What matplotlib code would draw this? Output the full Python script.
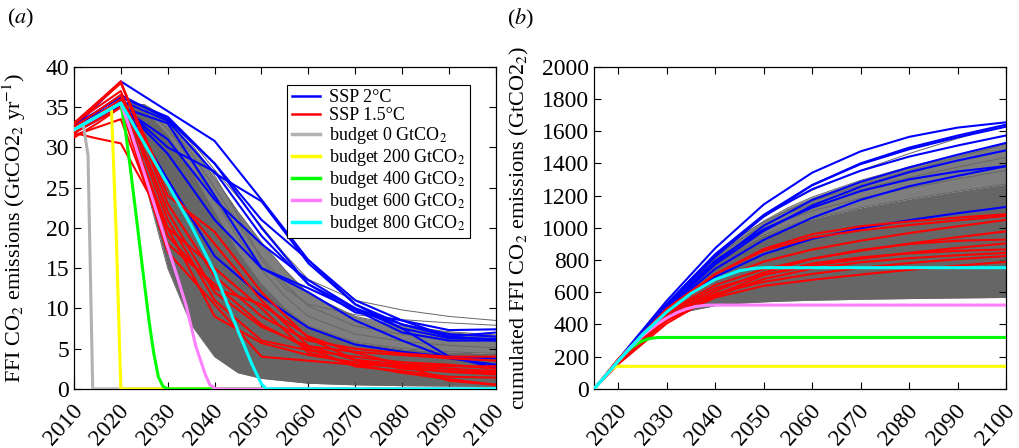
import numpy as np
import matplotlib
matplotlib.use("Agg")
import matplotlib.pyplot as plt
from matplotlib.transforms import ScaledTranslation

plt.rcParams['font.family'] = ['Liberation Serif', 'DejaVu Serif']
plt.rcParams['mathtext.fontset'] = 'stix'

# FFI CO2 emissions (GtCO2/yr), SSP runs at the reporting years
ssp_years = [2010, 2015, 2020, 2030, 2040, 2050, 2060, 2070, 2080, 2090, 2100]
ssp2_runs = [
    [32.5, 35.3, 38.2, 34.5, 30.8, 23.5, 16.0, 10.5, 7.5, 4.0, 2.6],
    [32.8, 34.5, 36.2, 33.8, 28.0, 21.0, 16.0, 11.0, 8.5, 6.5, 7.0],
    [32.0, 33.9, 35.8, 33.3, 26.8, 23.3, 15.6, 10.5, 8.0, 6.8, 6.5],
    [32.0, 33.6, 35.2, 30.0, 27.0, 19.0, 13.0, 9.5, 8.5, 7.3, 7.4],
    [31.8, 33.4, 35.0, 31.0, 23.5, 18.0, 13.5, 10.0, 8.0, 6.5, 6.1],
    [32.2, 33.7, 35.2, 29.2, 21.0, 15.0, 12.5, 9.8, 7.0, 6.0, 6.0],
    [32.5, 34.2, 35.8, 26.0, 16.5, 11.5, 7.6, 5.5, 4.6, 4.0, 3.8],
    [32.0, 33.5, 35.0, 33.0, 24.0, 15.0, 12.0, 8.5, 6.0, 3.8, 3.0],
    [32.4, 34.5, 36.5, 33.5, 28.0, 20.0, 13.0, 10.0, 7.5, 6.3, 6.2],
]
ssp15_runs = [
    [33.0, 35.6, 38.2, 23.0, 14.0, 9.0, 6.0, 5.0, 4.4, 4.0, 4.0],
    [32.8, 35.4, 38.0, 25.0, 18.0, 11.0, 5.3, 3.6, 3.0, 2.8, 2.8],
    [33.0, 35.0, 37.0, 22.0, 12.0, 7.7, 5.3, 4.6, 4.2, 3.8, 3.5],
    [32.5, 34.5, 36.5, 21.0, 11.0, 6.0, 4.8, 4.0, 3.3, 3.0, 2.5],
    [31.8, 33.4, 35.0, 20.0, 9.0, 5.7, 4.2, 3.3, 2.7, 2.1, 1.8],
    [31.5, 32.5, 33.5, 18.0, 13.0, 8.0, 5.0, 2.8, 2.2, 1.5, 1.4],
    [31.2, 33.0, 35.0, 17.0, 10.5, 4.0, 3.5, 3.0, 2.8, 2.5, 2.2],
    [31.8, 31.1, 30.5, 20.0, 15.0, 10.0, 4.5, 3.0, 2.0, 1.2, 0.5],
    [32.0, 34.0, 36.0, 19.0, 12.5, 10.5, 6.5, 4.5, 3.0, 1.0, 0.5],
    [33.0, 35.5, 38.0, 24.0, 19.5, 12.0, 6.3, 3.6, 2.5, 2.2, 2.0],
]

# shared historical emissions used by the budget pathways and the ensemble
hist_years = [2010, 2015, 2018, 2020]
hist_vals = [32.2, 33.85, 34.84, 35.5]

# ensemble of smooth pathways (from 2020 on)
gray_years = [2020, 2025, 2030, 2035, 2040, 2045, 2050, 2055, 2060, 2070, 2080, 2090, 2100]
gray_runs = [
    [35.5, 26.0, 15.0, 8.0, 4.0, 2.0, 1.3, 1.0, 0.7, 0.5, 0.4, 0.35, 0.3],
    [35.5, 27.5, 17.5, 10.0, 5.5, 3.0, 1.8, 1.3, 1.0, 0.7, 0.6, 0.5, 0.45],
    [35.5, 28.8, 19.5, 12.0, 7.0, 4.0, 2.4, 1.7, 1.3, 0.9, 0.8, 0.7, 0.6],
    [35.5, 30.0, 22.0, 14.5, 9.0, 5.5, 3.2, 2.2, 1.6, 1.1, 0.9, 0.8, 0.7],
    [35.5, 31.0, 23.5, 16.0, 10.5, 6.8, 4.2, 3.0, 2.2, 1.5, 1.2, 1.1, 1.0],
    [35.5, 31.5, 24.5, 17.5, 11.5, 7.5, 4.8, 3.3, 2.4, 1.6, 1.3, 1.1, 1.0],
    [35.5, 32.2, 25.8, 19.0, 13.0, 8.8, 5.8, 4.1, 3.0, 2.0, 1.7, 1.5, 1.3],
    [35.5, 32.5, 26.5, 20.0, 14.0, 9.5, 6.5, 4.6, 3.4, 2.3, 1.9, 1.7, 1.5],
    [35.5, 33.0, 27.5, 21.3, 15.3, 10.7, 7.4, 5.3, 4.0, 2.8, 2.3, 2.1, 1.9],
    [35.5, 33.2, 28.0, 22.0, 16.0, 11.5, 8.0, 5.8, 4.4, 3.2, 2.7, 2.4, 2.2],
    [35.5, 33.8, 29.5, 24.0, 18.5, 13.5, 9.8, 7.2, 5.5, 4.0, 3.4, 3.1, 2.9],
    [35.5, 34.3, 30.5, 25.5, 20.0, 15.5, 11.5, 8.6, 6.6, 4.9, 4.2, 3.9, 3.7],
    [35.5, 34.6, 31.5, 27.0, 22.0, 17.0, 13.0, 10.0, 7.8, 5.8, 5.0, 4.6, 4.4],
    [35.5, 34.9, 32.3, 28.3, 23.5, 18.8, 14.8, 11.5, 9.0, 6.8, 5.9, 5.4, 5.1],
    [35.5, 35.1, 32.9, 29.3, 25.0, 20.5, 16.4, 13.0, 10.3, 7.8, 6.8, 6.2, 5.9],
    [35.5, 35.2, 33.3, 30.2, 26.2, 22.0, 18.2, 14.8, 11.8, 9.0, 7.8, 7.1, 6.7],
    [35.5, 35.3, 33.5, 30.5, 26.5, 21.5, 16.0, 12.5, 10.5, 9.2, 8.6, 8.2, 7.9],
    [35.6, 35.3, 33.6, 30.8, 27.2, 23.8, 20.2, 16.7, 13.6, 11.0, 9.8, 9.0, 8.5],
]
core_lo, core_hi, fringe_hi = 0, 12, 15

# carbon budget pathways
b0_years = [2010, 2012, 2013, 2014, 2100]
b0_vals = [32.2, 32.8, 29.0, 0.0, 0.0]
b200_years = [2019, 2020, 2100]
b200_vals = [19.5, 0.0, 0.0]
b400_years = [2021, 2022, 2023, 2024, 2025, 2026, 2027, 2028, 2029, 2030, 2100]
b400_vals = [32.0, 27.5, 22.8, 18.0, 13.2, 8.5, 4.5, 1.5, 0.3, 0.0, 0.0]
b600_years = [2022, 2025, 2028, 2030, 2032, 2034, 2036, 2038, 2039, 2040, 2041, 2100]
b600_vals = [32.2, 26.8, 21.3, 17.6, 14.0, 10.2, 5.3, 1.8, 0.5, 0.1, 0.0, 0.0]
b800_years = [2025, 2030, 2035, 2040, 2045, 2048, 2050, 2051, 2100]
b800_vals = [30.5, 25.4, 20.3, 14.5, 7.2, 3.0, 0.6, 0.0, 0.0]

budget_labels = ['budget 0 GtCO$_2$', 'budget 200 GtCO$_2$', 'budget 400 GtCO$_2$',
                 'budget 600 GtCO$_2$', 'budget 800 GtCO$_2$']
budget_colors = ['#b2b2b2', '#ffff00', '#00ff00', '#ff80ff', '#00ffff']


def with_history(years, vals, upto):
    # prepend the historical part of the pathway
    hy = [y for y in hist_years if y <= upto]
    hv = hist_vals[:len(hy)]
    return hy + list(years), hv + list(vals)


def cumulate(years, vals, start=2015):
    y = np.asarray(years, float)
    v = np.asarray(vals, float)
    keep = y >= start
    y, v = y[keep], v[keep]
    steps = np.diff(y) * (v[1:] + v[:-1]) / 2
    return y, np.concatenate([[0.0], np.cumsum(steps)])


budgets = [
    (b0_years, b0_vals),
    with_history(b200_years, b200_vals, 2018),
    with_history(b400_years, b400_vals, 2020),
    with_history(b600_years, b600_vals, 2020),
    with_history(b800_years, b800_vals, 2020),
]
gray_full = [with_history(gray_years[1:], run[1:], 2020) for run in gray_runs]

fig = plt.figure(figsize=(10.2, 4.48), dpi=100)
ax1 = fig.add_axes([0.0725, 0.132, 0.4137, 0.7187])
ax2 = fig.add_axes([0.5824, 0.132, 0.4039, 0.7187])

gray_dark = '#666666'
gray_mid = '#7e7e7e'

# ---- (a) annual emissions
ax1.fill_between(gray_years, gray_runs[core_lo], gray_runs[core_hi], color=gray_dark, lw=0, zorder=1)
ax1.fill_between(gray_years, gray_runs[core_hi], gray_runs[fringe_hi], color=gray_mid, lw=0, zorder=1)
for run in gray_runs:
    ax1.plot(gray_years, run, color=gray_dark, lw=0.7, zorder=2)
for run in ssp2_runs:
    ax1.plot(ssp_years, run, color='#0000ff', lw=1.5, zorder=3)
for run in ssp15_runs:
    ax1.plot(ssp_years, run, color='#ff0000', lw=1.5, zorder=4)
for (yrs, vals), c in zip(budgets, budget_colors):
    ax1.plot(yrs, vals, color=c, lw=2.2, zorder=5)

handles = [plt.Line2D([], [], color='#0000ff', lw=1.8),
           plt.Line2D([], [], color='#ff0000', lw=1.8)]
handles += [plt.Line2D([], [], color=c, lw=2.5) for c in budget_colors]
labels = ['SSP 2°C', 'SSP 1.5°C'] + budget_labels
leg = ax1.legend(handles, labels, loc='upper left', bbox_to_anchor=(0.505, 0.944),
                 fontsize=13, frameon=True, fancybox=False, framealpha=1,
                 edgecolor='black', borderpad=0.25, labelspacing=0.05,
                 handlelength=1.6, handletextpad=0.5, borderaxespad=0)
leg.get_frame().set_linewidth(0.8)

ax1.set_xlim(2010, 2100)
ax1.set_ylim(0, 40)
ax1.set_xticks(range(2010, 2101, 10))
ax1.set_yticks(range(0, 41, 5))
ax1.set_ylabel('FFI CO$_2$ emissions (GtCO2$_2$ yr$^{-1}$)', fontsize=16)
ax1.yaxis.set_label_coords(-0.108, 0.5)

# ---- (b) cumulated emissions since 2015
cum_gray = [cumulate(y, v) for y, v in gray_full]
cx = cum_gray[0][0]
ax2.fill_between(cx, cum_gray[core_lo][1], cum_gray[core_hi][1], color=gray_dark, lw=0, zorder=1)
ax2.fill_between(cx, cum_gray[core_hi][1], cum_gray[fringe_hi][1], color=gray_mid, lw=0, zorder=1)
for y, c in cum_gray:
    ax2.plot(y, c, color=gray_dark, lw=0.7, zorder=2)
for run in ssp2_runs:
    ax2.plot(*cumulate(ssp_years, run), color='#0000ff', lw=1.5, zorder=3)
for run in ssp15_runs:
    ax2.plot(*cumulate(ssp_years, run), color='#ff0000', lw=1.5, zorder=4)
for (yrs, vals), c in list(zip(budgets, budget_colors))[1:]:
    ax2.plot(*cumulate(yrs, vals), color=c, lw=2.2, zorder=5)

ax2.set_xlim(2015, 2100)
ax2.set_ylim(0, 2000)
ax2.set_xticks(range(2020, 2101, 10))
ax2.set_yticks(range(0, 2001, 200))
ax2.set_ylabel('cumulated FFI CO$_2$ emissions (GtCO2$_2$)', fontsize=16)
ax2.yaxis.set_label_coords(-0.152, 0.5)

shift = ScaledTranslation(5 / 100, 0, fig.dpi_scale_trans)
for ax in (ax1, ax2):
    ax.tick_params(direction='in', top=True, right=True, length=5, width=0.8,
                   labelsize=17)
    ax.tick_params(axis='x', pad=13)
    for s in ax.spines.values():
        s.set_linewidth(0.9)
    for lab in ax.get_xticklabels():
        lab.set_rotation(48)
        lab.set_ha('right')
        lab.set_va('center')
        lab.set_rotation_mode('anchor')
        lab.set_transform(lab.get_transform() + shift)

fig.text(0.007, 0.958, '($a$)', fontsize=16, va='center')
fig.text(0.497, 0.958, '($b$)', fontsize=16, va='center')

fig.savefig('out.png', dpi=100, facecolor='white')
